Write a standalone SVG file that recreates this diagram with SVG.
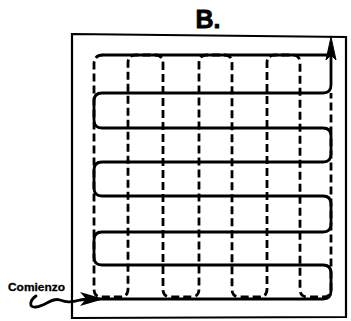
<svg xmlns="http://www.w3.org/2000/svg" width="351" height="321" viewBox="0 0 351 321">
<style>
.solid{fill:none;stroke:#000;stroke-width:2.8;stroke-linejoin:round;stroke-linecap:round}
.dash{fill:none;stroke:#000;stroke-width:2.8;stroke-dasharray:8 4}
.frame{fill:none;stroke:#000;stroke-width:2.2}
.t{font-family:"Liberation Sans",Arial,sans-serif;font-weight:bold;fill:#000}
</style>
<rect width="351" height="321" fill="#fff"/>
<g id="title"><text class="t" x="208" y="28" font-size="25" text-anchor="middle" stroke="#000" stroke-width="0.8">B.</text></g>
<g id="frame"><path class="frame" d="M72 34 L346 37 L346 317 L72 318 Z"/></g>
<g id="start-label"><text class="t" x="8" y="291" font-size="10.5" textLength="57" lengthAdjust="spacingAndGlyphs" stroke="#000" stroke-width="0.3">Comienzo</text></g>
<g id="connectors">
<path class="solid" d="M88 299 H323 Q331 299 331 291 V273 Q331 265 323 265 H102 Q94 265 94 257 V240 Q94 232 102 232 H323 Q331 232 331 224 V204 Q331 196 323 196 H102 Q94 196 94 188 V170 Q94 162 102 162 H323 Q331 162 331 154 V136 Q331 128 323 128 H102 Q94 128 94 120 V101 Q94 93 102 93 H323 Q331 93 331 85 V52"/>
<path class="solid" d="M331 55 H103"/>
<polygon points="331,37 326,60 331,55 336,60" fill="#000" stroke="#000" stroke-width="1"/>
<path class="dash" d="M103 55 Q94 55 94 64 V289 Q94 297 102 297 H120 Q128 297 128 289 V63 Q128 55 136 55 H155 Q163 55 163 63 V289 Q163 297 171 297 H191 Q199 297 199 289 V63 Q199 55 207 55 H224 Q232 55 232 63 V289 Q232 297 240 297 H259 Q267 297 267 289 V63 Q267 55 275 55 H292 Q300 55 300 63 V289 Q300 297 308 297 H323 Q331 297 331 289 V93"/>
<path class="solid" d="M36 296 C30 300 28 308 36 307 C46 306 52 297 60 300 C66 302 70 303 80 300 L88 299" stroke-width="2.4"/>
<polygon points="104,299 80,292 86,299 80,306" fill="#000"/>
</g>
</svg>
